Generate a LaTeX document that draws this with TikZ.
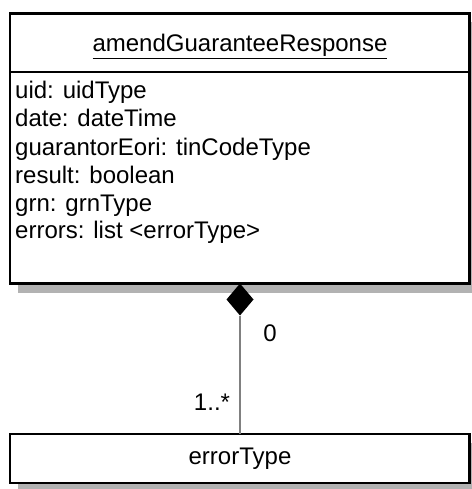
\documentclass[tikz,border=0pt]{standalone}
\usepackage{fontspec}
\setmainfont{Liberation Sans}
\begin{document}
\begin{tikzpicture}[x=1pt,y=-1pt,
  boxline/.style={line width=2.6pt,draw=black},
  shadowfill/.style={fill=black!30},
  txt/.style={inner sep=0pt,font=\fontsize{24}{28}\selectfont},
  attr/.style={txt,anchor=base west},
  conn/.style={line width=2.6pt,draw=black!50}]
\useasboundingbox (0,0) rectangle (471,489);
% shadows
\fill[shadowfill] (18,284) rectangle (478,293);
\fill[shadowfill] (470,22) rectangle (478,293);
\fill[shadowfill] (18,484) rectangle (478,495);
\fill[shadowfill] (470,443) rectangle (478,495);
% main class box
\draw[boxline,fill=white] (10,13.5) rectangle (469.5,283.5);
\draw[boxline] (10,72) -- (469.5,72);
\coordinate (mainbot) at (240,283.5);
\node[txt,anchor=base] (title) at (240,52) {\underline{amendGuaranteeResponse}};
\node[attr] (a1) at (15,99) {uid: uidType};
\node[attr] (a2) at (15,127) {date: dateTime};
\node[attr] (a3) at (15,155) {guarantorEori: tinCodeType};
\node[attr] (a4) at (15,183) {result: boolean};
\node[attr] (a5) at (15,211) {grn: grnType};
\node[attr] (a6) at (15,238) {errors: list <errorType>};
% errorType box
\draw[boxline,fill=white] (10,434) rectangle (469.5,483);
\coordinate (errtop) at (240,434);
\node[txt] (err) at (240,459) {errorType};
% composition diamond
\fill[black] (240,283.5) -- (253.5,299.5) -- (240,315.5) -- (226.5,299.5) -- cycle;
\coordinate (dbot) at (240,315.5);
\draw[conn] (dbot) -- (errtop);
\node[txt] (m0) at (270,333) {0};
\node[txt] (m1) at (212,402) {1..*};
\end{tikzpicture}
\end{document}
